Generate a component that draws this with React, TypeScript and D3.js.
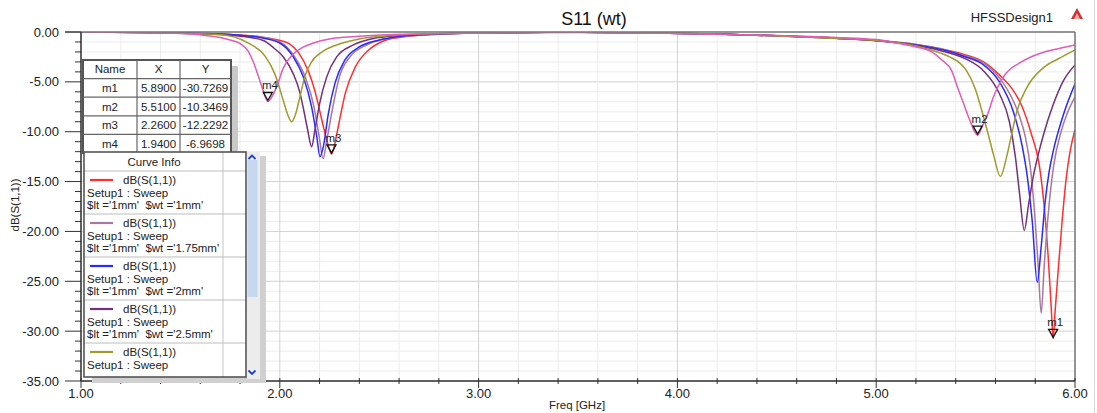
import React from "react";
import * as d3 from "d3";

type Pt = [number, number];

// Axis ticks
const freqTicks = [1, 2, 3, 4, 5, 6];
const dbTicks = [0, -5, -10, -15, -20, -25, -30, -35];

// Swept S11 curves, [frequency GHz, dB]
const sweep1: Pt[] = [
  [1.0, 0], [1.2, -0.02], [1.4, -0.06], [1.6, -0.13], [1.8, -0.3], [1.9, -0.48], [1.98, -0.75],
  [2.045, -1.15], [2.095, -2.1], [2.145, -4.0], [2.178, -6.0], [2.21, -8.7], [2.237, -10.9],
  [2.252, -11.9], [2.26, -12.2292], [2.27, -11.8], [2.283, -10.6], [2.296, -9.3], [2.33, -6.1],
  [2.38, -3.5], [2.447, -1.8], [2.51, -1.0], [2.6, -0.55], [2.8, -0.22], [3.0, -0.1], [3.4, -0.03],
  [3.8, -0.07], [4.2, -0.2], [4.5, -0.38], [4.8, -0.62], [5.0, -0.85], [5.2, -1.25], [5.35, -1.8],
  [5.45, -2.3], [5.54, -3.0], [5.62, -4.3], [5.68, -5.6], [5.73, -7.3], [5.78, -10.2], [5.82, -13.3],
  [5.845, -17.5], [5.865, -22.5], [5.88, -27.5], [5.89, -30.7269], [5.9, -28.0], [5.915, -24.0],
  [5.935, -19.0], [5.955, -14.8], [5.975, -12.0], [6.0, -9.8],
];
const sweep2: Pt[] = [
  [1.0, 0], [1.2, -0.02], [1.4, -0.06], [1.6, -0.14], [1.8, -0.32], [1.9, -0.5], [2.0, -1.0],
  [2.075, -2.5], [2.128, -4.5], [2.172, -7.5], [2.198, -10.5], [2.218, -12.7], [2.235, -11.0],
  [2.255, -8.8], [2.27, -7.2], [2.3, -4.5], [2.353, -2.5], [2.437, -1.3], [2.52, -0.75], [2.6, -0.5],
  [2.8, -0.2], [3.0, -0.1], [3.4, -0.03], [3.8, -0.07], [4.2, -0.2], [4.5, -0.38], [4.8, -0.62],
  [5.0, -0.83], [5.2, -1.25], [5.35, -1.8], [5.45, -2.4], [5.54, -3.1], [5.62, -4.6], [5.68, -6.5],
  [5.72, -8.4], [5.75, -10.5], [5.775, -13.5], [5.8, -19.0], [5.815, -23.5], [5.83, -28.2],
  [5.845, -23.5], [5.867, -17.9], [5.892, -13.5], [5.93, -10.0], [5.96, -8.2], [6.0, -6.5],
];
const sweep3: Pt[] = [
  [1.0, 0], [1.3, -0.04], [1.6, -0.14], [1.8, -0.33], [1.9, -0.55], [2.0, -1.1], [2.068, -2.5],
  [2.118, -4.5], [2.16, -7.5], [2.186, -10.5], [2.202, -12.5], [2.219, -11.5], [2.244, -8.2],
  [2.278, -5.1], [2.328, -2.8], [2.4, -1.5], [2.5, -0.8], [2.6, -0.45], [2.8, -0.2], [3.0, -0.1],
  [3.4, -0.03], [3.8, -0.07], [4.2, -0.2], [4.5, -0.38], [4.8, -0.62], [5.0, -0.85], [5.2, -1.3],
  [5.35, -1.85], [5.45, -2.5], [5.54, -3.3], [5.62, -5.0], [5.69, -8.0], [5.735, -11.5], [5.76, -14.5],
  [5.785, -19.0], [5.81, -25.1], [5.83, -21.5], [5.85, -17.0], [5.87, -14.0], [5.89, -12.0],
  [5.94, -8.4], [6.0, -5.2],
];
const sweep4: Pt[] = [
  [1.0, 0], [1.3, -0.05], [1.6, -0.18], [1.8, -0.42], [1.917, -0.85], [1.97, -1.6], [2.018, -2.5],
  [2.068, -4.2], [2.1, -6.0], [2.12, -7.8], [2.14, -9.8], [2.16, -11.5], [2.177, -9.8], [2.2, -7.2],
  [2.236, -4.5], [2.286, -2.5], [2.37, -1.3], [2.47, -0.65], [2.6, -0.35], [2.8, -0.18], [3.0, -0.1],
  [3.4, -0.03], [3.8, -0.07], [4.2, -0.2], [4.5, -0.38], [4.8, -0.63], [5.0, -0.88], [5.2, -1.35],
  [5.35, -2.0], [5.45, -2.7], [5.54, -3.9], [5.62, -6.2], [5.67, -9.0], [5.7, -12.5], [5.72, -16.0],
  [5.745, -19.9], [5.765, -17.5], [5.79, -14.5], [5.815, -12.3], [5.84, -10.4], [5.89, -7.3],
  [5.94, -4.95], [6.0, -3.3],
];
const sweep5: Pt[] = [
  [1.0, 0], [1.3, -0.05], [1.5, -0.12], [1.7, -0.25], [1.84, -1.1], [1.925, -2.4], [1.975, -4.2],
  [2.018, -6.9], [2.04, -8.3], [2.06, -9.0], [2.08, -8.2], [2.1, -6.6], [2.127, -4.4], [2.16, -3.0],
  [2.22, -1.9], [2.3, -1.2], [2.4, -0.7], [2.5, -0.45], [2.7, -0.2], [3.0, -0.1], [3.4, -0.03],
  [3.8, -0.07], [4.2, -0.2], [4.5, -0.4], [4.8, -0.65], [5.0, -0.85], [5.12, -1.1], [5.2, -1.4],
  [5.29, -1.9], [5.37, -2.5], [5.42, -3.1], [5.455, -3.9], [5.5, -5.8], [5.53, -7.8], [5.56, -10.0],
  [5.59, -12.3], [5.625, -14.5], [5.655, -12.6], [5.68, -10.4], [5.707, -8.0], [5.757, -5.6],
  [5.84, -3.6], [5.925, -2.6], [6.0, -1.8],
];
const sweep6: Pt[] = [
  [1.0, 0], [1.3, -0.05], [1.5, -0.15], [1.6, -0.28], [1.7, -0.55], [1.75, -0.8], [1.8, -1.15],
  [1.84, -1.9], [1.867, -3.0], [1.89, -4.3], [1.91, -5.5], [1.94, -6.9698], [1.96, -6.5], [1.984, -5.5],
  [2.018, -3.6], [2.068, -2.2], [2.12, -1.5], [2.17, -1.1], [2.25, -0.7], [2.34, -0.5], [2.5, -0.3],
  [2.8, -0.15], [3.0, -0.1], [3.5, -0.05], [4.0, -0.15], [4.5, -0.35], [4.8, -0.55], [5.0, -0.75],
  [5.1, -1.1], [5.2, -1.5], [5.27, -1.9], [5.33, -2.8], [5.38, -3.9], [5.41, -5.6], [5.44, -7.2],
  [5.47, -8.8], [5.51, -10.3469], [5.535, -9.4], [5.56, -8.3], [5.59, -6.5], [5.64, -4.5],
  [5.73, -3.0], [5.83, -2.1], [5.92, -1.65], [6.0, -1.3],
];

const sweeps = [sweep1, sweep2, sweep3, sweep4, sweep5, sweep6];
const sweepColors = ["#ff2f2f", "#a8789f", "#2a2aff", "#74307a", "#9c9c2c", "#e25cb6"];
const sweepParams = [
  "$lt ='1mm'  $wt ='1mm'",
  "$lt ='1mm'  $wt ='1.75mm'",
  "$lt ='1mm'  $wt ='2mm'",
  "$lt ='1mm'  $wt ='2.5mm'",
  "",
  "",
];

// Markers
const markerNames = ["m1", "m2", "m3", "m4"];
const markerFreq = [5.89, 5.51, 2.26, 1.94];
const markerDb = [-30.7269, -10.3469, -12.2292, -6.9698];

const FONT = "Arial, 'Liberation Sans', sans-serif";

export default function App() {
  const W = 1097;
  const H = 413;
  const x = d3.scaleLinear().domain([1, 6]).range([81, 1075]);
  const y = d3.scaleLinear().domain([0, -35]).range([32, 381]);

  const line = d3
    .line<Pt>()
    .x((d) => x(d[0]))
    .y((d) => y(d[1]))
    .curve(d3.curveMonotoneX);

  const xMinor = d3.range(1, 6.0001, 0.2);
  const yMinor = d3.range(0, -35.0001, -1);

  // table geometry
  const tX = 83, tY = 60, tW = 148, rowH = 18.6;
  const colX = [83, 137, 180, 231];

  // curve info geometry
  const cX = 84, cY = 152, cW = 162, cH = 225, entryH = 43;

  return (
    <svg
      width={W}
      height={H}
      style={{ position: "absolute", left: 0, top: 0, display: "block", background: "#fff" }}
      fontFamily={FONT}
    >
      <defs>
        <clipPath id="plotClip">
          <rect x={81} y={32} width={994} height={349} />
        </clipPath>
        <clipPath id="infoClip">
          <rect x={cX} y={cY} width={cW} height={cH} />
        </clipPath>
      </defs>
      <rect x={0} y={0} width={W} height={H} fill="#fff" />

      {/* title */}
      <text x={594} y={25} textAnchor="middle" fontSize={18} fill="#111">S11 (wt)</text>
      <text x={1053} y={22} textAnchor="end" fontSize={13} fill="#222">HFSSDesign1</text>
      <g transform="translate(1077,14)">
        <path d="M0,-6 L6,5 L-6,5 Z" fill="#d03030" />
        <path d="M0,-1 L3,5 L-3,5 Z" fill="#fff" opacity={0.6} />
      </g>
      <line x1={1094.5} y1={0} x2={1094.5} y2={H} stroke="#d8d8d8" />

      {/* grid */}
      <g>
        {yMinor.map((v) => (
          <line key={"hy" + v} x1={81} x2={1075} y1={y(v)} y2={y(v)}
            stroke={Math.round(v) % 5 === 0 ? "#d2d2d2" : "#ececec"} strokeWidth={1} />
        ))}
        {xMinor.map((v, i) => (
          <line key={"vx" + i} x1={x(v)} x2={x(v)} y1={32} y2={381}
            stroke={i % 5 === 0 ? "#d2d2d2" : "#ececec"} strokeWidth={1} />
        ))}
      </g>

      {/* curves */}
      <g clipPath="url(#plotClip)">
        {sweeps.map((s, i) => (
          <path key={"c" + i} d={line(s) || ""} fill="none" stroke={sweepColors[i]} strokeWidth={1.5} />
        ))}
      </g>

      {/* frame and axes */}
      <line x1={65} x2={1075} y1={32} y2={32} stroke="#7a7a7a" strokeWidth={1.5} />
      <line x1={1075} x2={1075} y1={32} y2={381} stroke="#7a7a7a" strokeWidth={1.5} />
      <line x1={81} x2={81} y1={32} y2={381} stroke="#333" strokeWidth={1.5} />
      <line x1={81} x2={1075} y1={381} y2={381} stroke="#333" strokeWidth={1.5} />
      {yMinor.map((v) => (
        <line key={"ty" + v} x1={Math.round(v) % 5 === 0 ? 65 : 75} x2={81} y1={y(v)} y2={y(v)}
          stroke="#333" strokeWidth={1} />
      ))}
      {xMinor.map((v, i) => (
        <line key={"tx" + i} x1={x(v)} x2={x(v)} y1={378} y2={i % 5 === 0 ? 388 : 384}
          stroke="#333" strokeWidth={1} />
      ))}
      {dbTicks.map((v) => (
        <text key={"ly" + v} x={59} y={y(v) + 4.5} textAnchor="end" fontSize={13} fill="#222">
          {v.toFixed(2)}
        </text>
      ))}
      {freqTicks.map((v) => (
        <text key={"lx" + v} x={x(v)} y={398} textAnchor="middle" fontSize={13} fill="#222">
          {v.toFixed(2)}
        </text>
      ))}
      <text x={577} y={409} textAnchor="middle" fontSize={11.5} fill="#222">Freq [GHz]</text>
      <text transform="translate(19,205) rotate(-90)" textAnchor="middle" fontSize={11.5} fill="#222">
        dB(S(1,1))
      </text>

      {/* markers */}
      {markerNames.map((m, i) => {
        const px = x(markerFreq[i]);
        const py = y(markerDb[i]);
        return (
          <g key={m}>
            <path d={`M${px - 4.5},${py - 9} L${px + 4.5},${py - 9} L${px},${py - 1} Z`}
              fill="none" stroke="#111" strokeWidth={1.3} />
            <text x={px + 2} y={py - 12} textAnchor="middle" fontSize={11.5} fill="#222">{m}</text>
          </g>
        );
      })}

      {/* marker table */}
      <rect x={tX + tW} y={tY + 6} width={7} height={rowH * 5 - 4} fill="#c9c9c9" />
      <rect x={tX} y={tY} width={tW} height={rowH * 5} fill="#fff" stroke="#555" strokeWidth={2} />
      {[1, 2, 3, 4].map((r) => (
        <line key={"tr" + r} x1={tX} x2={tX + tW} y1={tY + r * rowH} y2={tY + r * rowH} stroke="#666" strokeWidth={1.2} />
      ))}
      {[1, 2].map((c) => (
        <line key={"tc" + c} x1={colX[c]} x2={colX[c]} y1={tY} y2={tY + rowH * 5} stroke="#666" strokeWidth={1.2} />
      ))}
      {["Name", "X", "Y"].map((h, c) => (
        <text key={"th" + c} x={(colX[c] + colX[c + 1]) / 2} y={tY + rowH / 2 + 4} textAnchor="middle"
          fontSize={11.5} fill="#222">{h}</text>
      ))}
      {markerNames.map((m, i) => {
        const cy = tY + (i + 1) * rowH + rowH / 2 + 4;
        return (
          <g key={"row" + m}>
            <text x={(colX[0] + colX[1]) / 2} y={cy} textAnchor="middle" fontSize={11.5} fill="#222">{m}</text>
            <text x={(colX[1] + colX[2]) / 2} y={cy} textAnchor="middle" fontSize={11.5} fill="#222">
              {markerFreq[i].toFixed(4)}
            </text>
            <text x={(colX[2] + colX[3]) / 2} y={cy} textAnchor="middle" fontSize={11.5} fill="#222">
              {markerDb[i].toFixed(4)}
            </text>
          </g>
        );
      })}

      {/* curve info */}
      <rect x={cX + 8} y={cY + cH} width={cW + 18 - 8} height={6} fill="#d0d0d0" />
      <rect x={cX + cW + 14} y={cY + 4} width={6} height={cH + 2} fill="#d0d0d0" />
      <rect x={cX} y={cY} width={cW} height={cH} fill="#fff" />
      <g clipPath="url(#infoClip)">
        <line x1={223} x2={223} y1={cY} y2={cY + cH} stroke="#c4c4c4" />
        <line x1={cX} x2={cX + cW} y1={cY + 19} y2={cY + 19} stroke="#bdbdbd" />
        <text x={154} y={cY + 14} textAnchor="middle" fontSize={11.5} fill="#222">Curve Info</text>
        {sweeps.map((s, i) => {
          const top = cY + 19 + i * entryH;
          return (
            <g key={"e" + i}>
              <line x1={90} x2={113} y1={top + 9} y2={top + 9} stroke={sweepColors[i]} strokeWidth={2.2} />
              <text x={123} y={top + 13} fontSize={11.5} fill="#222">dB(S(1,1))</text>
              <text x={87} y={top + 26} fontSize={11.5} fill="#222">Setup1 : Sweep</text>
              <text x={87} y={top + 38} fontSize={11.5} fill="#222" style={{ whiteSpace: "pre" }}>
                {sweepParams[i]}
              </text>
              <line x1={cX} x2={cX + cW} y1={top + entryH} y2={top + entryH} stroke="#bdbdbd" />
            </g>
          );
        })}
      </g>
      <rect x={cX} y={cY} width={cW} height={cH} fill="none" stroke="#555" strokeWidth={1.6} />
      {/* scrollbar */}
      <rect x={cX + cW + 1} y={cY} width={13} height={cH + 2} fill="#ececec" />
      <rect x={cX + cW + 1.5} y={cY + 8} width={10} height={137} fill="#c5d8f0" />
      <path d={`M${252 - 3.5},${159} L${252},${155.5} L${252 + 3.5},${159}`} fill="none" stroke="#1a3fd0" strokeWidth={1.8} />
      <path d={`M${252 - 3.5},${370.5} L${252},${374} L${252 + 3.5},${370.5}`} fill="none" stroke="#1a3fd0" strokeWidth={1.8} />
    </svg>
  );
}
